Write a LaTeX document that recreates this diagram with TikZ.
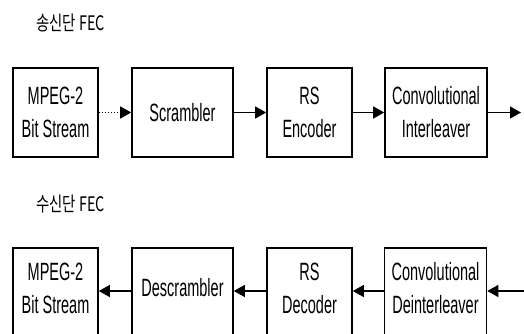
\documentclass[tikz,border=0pt]{standalone}
\usepackage{fontspec}
\setmainfont{Liberation Sans}
\newfontfamily\boxfont[FakeStretch=0.58]{Liberation Sans}
\newfontfamily\krfont[FakeStretch=0.72]{Noto Sans CJK KR}
\usetikzlibrary{arrows.meta}
\begin{document}
\begin{tikzpicture}[x=1pt,y=-1pt,
  blk/.style={draw, line width=1.6pt, inner sep=0pt, align=center,
    font=\boxfont\fontsize{25}{33}\selectfont},
  lbl/.style={inner sep=0pt, align=center, font=\boxfont\fontsize{25}{33}\selectfont},
  ttl/.style={inner sep=0pt, anchor=west, font=\krfont\fontsize{20}{22}\selectfont},
  arr/.style={line width=1.3pt, -{Triangle[length=11pt,width=12pt]}},
  dotarr/.style={arr, dash pattern=on 1.5pt off 1.5pt}]
\useasboundingbox (0,0) rectangle (524,333);
\clip (0,0) rectangle (524,333);

% titles
\node[ttl] (t1) at (36,23) {송신단 FEC};
\node[ttl] (t2) at (36,204) {수신단 FEC};

% top row
\node[blk, minimum width=85, minimum height=89] (a1) at (55.5,112.5) {MPEG-2\\Bit Stream};
\node[blk, minimum width=101, minimum height=89] (a2) at (182.5,112.5) {Scrambler};
\node[blk, minimum width=85, minimum height=89] (a3) at (309.5,112.5) {RS\\Encoder};
\node[blk, minimum width=102, minimum height=89] (a4) at (436,112.5) {Convolutional\\Interleaver};
\coordinate (aout) at (521,112.5);

\draw[dotarr] (a1.east) -- (a2.west);
\draw[arr] (a2.east) -- (a3.west);
\draw[arr] (a3.east) -- (a4.west);
\draw[arr] (a4.east) -- (aout);

% bottom row (boxes run off the bottom edge)
\node[blk, anchor=north, minimum width=85, minimum height=100] (b1) at (55.5,247) {};
\node[blk, anchor=north, minimum width=101, minimum height=100] (b2) at (182.5,247) {};
\node[blk, anchor=north, minimum width=85, minimum height=100] (b3) at (309.5,247) {};
\node[blk, anchor=north, minimum width=102, minimum height=100] (b4) at (435.5,247) {};

\node[lbl] (b1t) at (55.5,288) {MPEG-2\\Bit Stream};
\node[lbl] (b2t) at (182.5,288) {Descrambler};
\node[lbl] (b3t) at (309.5,288) {RS\\Decoder};
\node[lbl] (b4t) at (435.5,288) {Convolutional\\Deinterleaver};

\coordinate (row2) at (0,291);
\coordinate (bin) at (524,291);
\draw[arr] (bin) -- (b4.east |- row2);
\draw[arr] (b4.west |- row2) -- (b3.east |- row2);
\draw[arr] (b3.west |- row2) -- (b2.east |- row2);
\draw[arr] (b2.west |- row2) -- (b1.east |- row2);
\end{tikzpicture}
\end{document}
